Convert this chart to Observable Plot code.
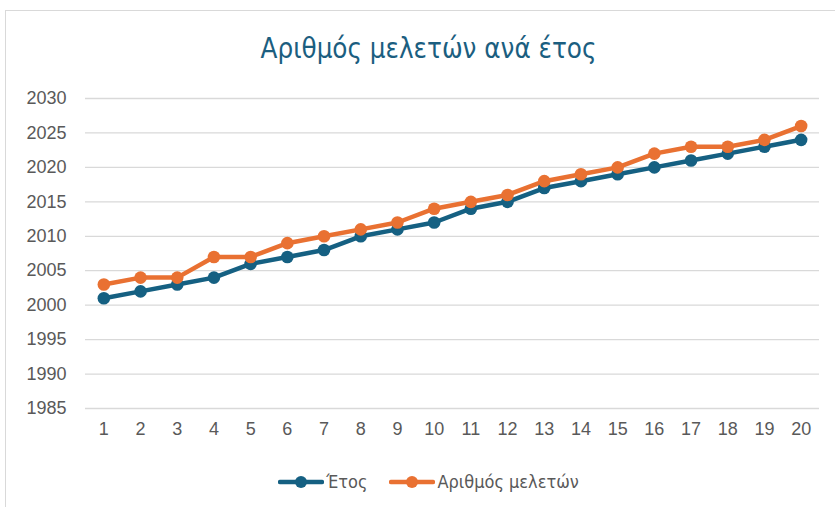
<!DOCTYPE html>
<html>
<head>
<meta charset="utf-8">
<script src="https://cdn.jsdelivr.net/npm/d3@7"></script>
<script src="https://cdn.jsdelivr.net/npm/@observablehq/plot@0.6"></script>
<style>
  html, body { margin: 0; padding: 0; background: #fff; overflow: hidden; }
  #frame { position: absolute; left: 5px; top: 10px; width: 860px; height: 520px;
           border: 1px solid #d9d9d9; box-sizing: border-box; }
  #title { position: absolute; left: 0; top: 32px; width: 857px; text-align: center;
           font-family: "Liberation Sans Narrow", "DejaVu Sans Condensed", "Liberation Sans", sans-serif;
           font-size: 27.5px; color: #1b5e80; white-space: nowrap; }
  #chart { position: absolute; left: 0; top: 80px; }
  #legend { position: absolute; left: 11px; top: 471px; width: 835px; display: flex; justify-content: center;
            font-family: "Liberation Sans Narrow", "DejaVu Sans Condensed", "Liberation Sans", sans-serif;
            font-size: 18px; color: #595959; }
  .item { display: flex; align-items: center; margin: 0 11px; }
  .item svg { margin-right: 2px; }
</style>
</head>
<body>
<div id="frame"></div>
<div id="title">Αριθμός μελετών ανά έτος</div>
<div id="chart"></div>
<div id="legend"></div>
<script>
// Category positions along the horizontal axis
const categories = [1, 2, 3, 4, 5, 6, 7, 8, 9, 10, 11, 12, 13, 14, 15, 16, 17, 18, 19, 20];
// Series "Έτος"
const etos = [2001, 2002, 2003, 2004, 2006, 2007, 2008, 2010, 2011, 2012,
              2014, 2015, 2017, 2018, 2019, 2020, 2021, 2022, 2023, 2024];
// Series "Αριθμός μελετών"
const meletes = [2003, 2004, 2004, 2007, 2007, 2009, 2010, 2011, 2012, 2014,
                 2015, 2016, 2018, 2019, 2020, 2022, 2023, 2023, 2024, 2026];
// Value axis ticks
const yTicks = [1985, 1990, 1995, 2000, 2005, 2010, 2015, 2020, 2025, 2030];

const seriesNames = ["Έτος", "Αριθμός μελετών"];
const seriesColors = ["#156082", "#E97132"];

const rows = [];
categories.forEach((c, i) => {
  rows.push({ cat: c, value: etos[i], series: seriesNames[0] });
  rows.push({ cat: c, value: meletes[i], series: seriesNames[1] });
});

const plot = Plot.plot({
  width: 835,
  height: 380,
  marginLeft: 85,
  marginRight: 16,
  marginTop: 18,
  marginBottom: 52,
  style: { fontFamily: "'Liberation Sans', Arial, sans-serif", fontSize: "18px", color: "#595959", background: "transparent" },
  x: { domain: [0.5, 20.5], ticks: categories, tickSize: 0, tickPadding: 14, tickFormat: d => String(d), label: null },
  y: { domain: [1985, 2030], ticks: yTicks, tickSize: 0, tickPadding: 19, tickFormat: d => String(d), label: null },
  color: { domain: seriesNames, range: seriesColors },
  marks: [
    Plot.ruleY(yTicks, { stroke: "#d9d9d9", strokeWidth: 1.3 }),
    Plot.axisX({ ticks: categories, tickSize: 0, tickPadding: 14, tickFormat: d => String(d), fill: "#595959" }),
    Plot.axisY({ ticks: yTicks, tickSize: 0, tickPadding: 19, tickFormat: d => String(d), fill: "#595959" }),
    Plot.line(rows, { x: "cat", y: "value", z: "series", stroke: "series", strokeWidth: 4.5, strokeLinejoin: "round", strokeLinecap: "round" }),
    Plot.dot(rows, { x: "cat", y: "value", fill: "series", r: 6.3, stroke: "none" })
  ]
});
document.getElementById("chart").appendChild(plot);

// Legend: line with marker swatch followed by the series name
const legend = d3.select("#legend");
seriesNames.forEach((name, i) => {
  const item = legend.append("div").attr("class", "item");
  const sw = item.append("svg").attr("width", 46).attr("height", 16);
  sw.append("line").attr("x1", 2).attr("x2", 44).attr("y1", 8).attr("y2", 8)
    .attr("stroke", seriesColors[i]).attr("stroke-width", 4.5).attr("stroke-linecap", "round");
  sw.append("circle").attr("cx", 23).attr("cy", 8).attr("r", 6).attr("fill", seriesColors[i]);
  item.append("span").text(name);
});
</script>
</body>
</html>
